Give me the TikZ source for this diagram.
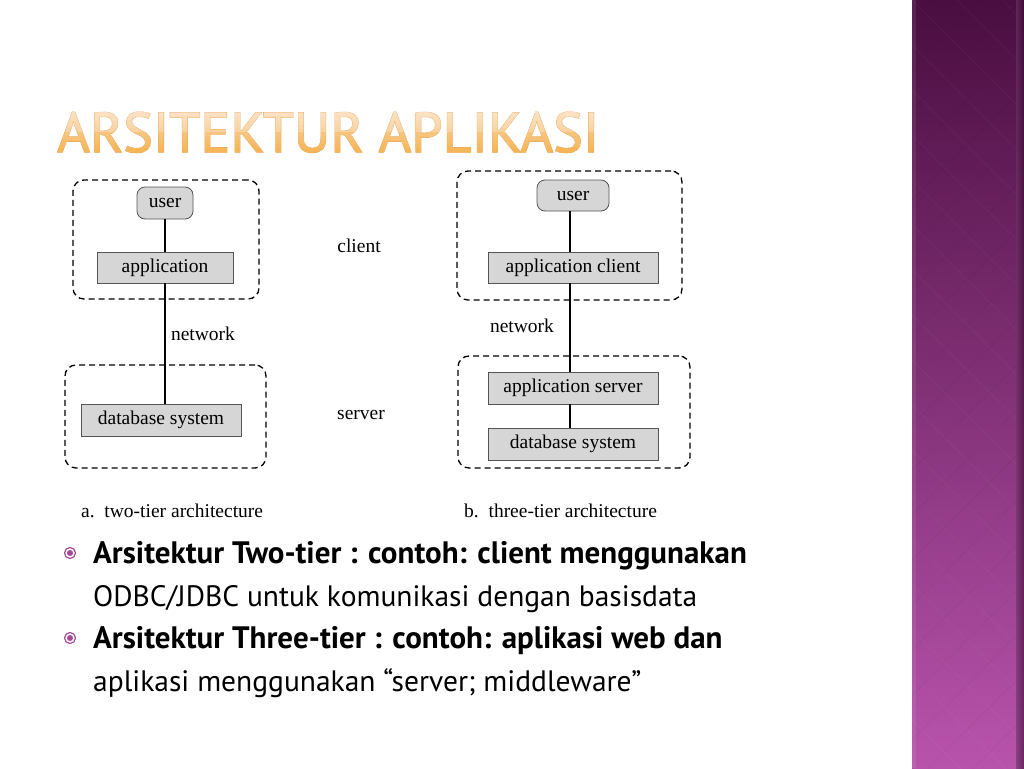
\documentclass[tikz,border=0pt]{standalone}
\usepackage{fontspec}
\setmainfont{Liberation Serif}
\newfontfamily\titlefont[FakeBold=0.8]{PT Sans}
\newfontfamily\titleedgefont[FakeBold=2.2]{PT Sans}
\newfontfamily\bulletfont{PT Sans}
\definecolor{boxgray}{HTML}{D6D6D6}
\definecolor{boxline}{HTML}{555555}
\definecolor{sidetop}{HTML}{4A0E40}
\definecolor{sidebot}{HTML}{B853AC}
\definecolor{titlelight}{HTML}{FBE3C8}
\definecolor{titleorange}{HTML}{F4B04A}
\definecolor{titleedge}{HTML}{E7A861}
\definecolor{bulletpurple}{HTML}{A34A98}
\newcommand{\titletext}{ARSITEKTUR APLIKASI}
\tikzset{
  grayrect/.style={draw=boxline, fill=boxgray, line width=0.8pt, inner sep=0pt, font=\fontsize{19.5}{22}\selectfont},
  grayround/.style={grayrect, rounded corners=8pt},
  dashbox/.style={draw=black, line width=1.3pt, dash pattern=on 6pt off 4pt, rounded corners=11pt},
  conn/.style={draw=black, line width=1.3pt},
  lbl/.style={font=\fontsize{19.5}{22}\selectfont, inner sep=0pt},
  bulb/.style={font=\bulletfont\bfseries\fontsize{31}{34}\selectfont, inner sep=0pt, anchor=base west},
  bulr/.style={font=\bulletfont\fontsize{29.5}{34}\selectfont, inner sep=0pt, anchor=base west},
  titlestyle/.style={anchor=base west, inner sep=0pt, font=\fontsize{56}{60}\selectfont},
}
\begin{document}
\begin{tikzpicture}[x=1pt,y=-1pt]
\useasboundingbox (0,0) rectangle (1024,768);
\fill[white] (0,0) rectangle (1024,768);
% sidebar
\shade[top color=sidetop, bottom color=sidebot] (912,0) rectangle (1024,768);
\begin{scope}
\clip (912,0) rectangle (1016,768);
\foreach \i in {0,...,30} {
  \draw[white, opacity=0.035, line width=1pt] (912,{\i*45-450}) -- (1112,{\i*45-250});
  \draw[black, opacity=0.03, line width=1pt] (1112,{\i*45-450}) -- (912,{\i*45-250});
}
\end{scope}
\shade[left color=sidebot!60!black, right color=sidetop!70!black, opacity=0.6] (1016,0) rectangle (1024,768);
\fill[white, opacity=0.08] (912,0) rectangle (916,768);
% title: outline then banded gradient
\node[titlestyle, text=titleedge] (titleedge) at (57,152) {\scalebox{1.0}[1]{\titleedgefont\titletext}};
\foreach \k in {0,...,11} {
  \pgfmathsetmacro{\mixv}{\k<6 ? 100-\k*6 : 40-(\k-6)*7}
  \begin{scope}
  \clip (40,{108+\k*4}) rectangle (640,{112+\k*4+ (\k==11 ? 20 : 0)});
  \node[titlestyle, text=titlelight!\mixv!titleorange] at (57,152) {\scalebox{1.0}[1]{\titlefont\titletext}};
  \end{scope}
}
% left diagram
\node[dashbox, minimum width=186pt, minimum height=119pt] (lclient) at (166,239.5) {};
\node[dashbox, minimum width=201pt, minimum height=103pt] (lserver) at (165.5,416.5) {};
\node[grayround, minimum width=56pt, minimum height=32pt] (luser) at (165,203) {user};
\node[grayrect, minimum width=136pt, minimum height=31pt] (lapp) at (165,267.5) {application};
\node[grayrect, minimum width=160pt, minimum height=32pt] (ldb) at (161,420) {database system};
\draw[conn] (luser.south) -- (luser.south |- lapp.north);
\draw[conn] (lapp.south -| luser.south) -- (luser.south |- ldb.north);
\node[lbl] (lnet) at (203,334) {network};
\node[lbl] (lcl) at (359,246) {client};
\node[lbl] (lsv) at (361,415) {server};
\node[lbl, anchor=west] (lcap) at (81,511) {a.\ \ two-tier architecture};
% right diagram
\node[dashbox, minimum width=225pt, minimum height=129pt] (rclient) at (569.5,235.5) {};
\node[dashbox, minimum width=232pt, minimum height=112pt] (rserver) at (574,412) {};
\node[grayround, minimum width=72pt, minimum height=31pt] (ruser) at (573,195.5) {user};
\node[grayrect, minimum width=170pt, minimum height=31pt] (rapp) at (573,267.5) {application client};
\node[grayrect, minimum width=170pt, minimum height=32pt] (rsrv) at (573,388) {application server};
\node[grayrect, minimum width=170pt, minimum height=32pt] (rdb) at (573,444) {database system};
\coordinate (rx) at (570,0);
\draw[conn] (rx |- ruser.south) -- (rx |- rapp.north);
\draw[conn] (rx |- rapp.south) -- (rx |- rsrv.north);
\draw[conn] (rx |- rsrv.south) -- (rx |- rdb.north);
\node[lbl] (rnet) at (522,326) {network};
\node[lbl, anchor=west] (rcap) at (464,511) {b.\ \ three-tier architecture};
% bullets
\foreach \yy/\nm in {553/b1, 638/b2} {
  \draw[bulletpurple, line width=1.2pt] (70,\yy) circle (5.5pt);
  \fill[bulletpurple] (70,\yy) circle (3pt);
}
\node[bulb] (t1) at (93,563) {Arsitektur Two-tier : contoh: client menggunakan};
\node[bulr] (t2) at (93,606) {ODBC/JDBC untuk komunikasi dengan basisdata};
\node[bulb] (t3) at (93,648) {Arsitektur Three-tier : contoh: aplikasi web dan};
\node[bulr] (t4) at (93,691) {aplikasi menggunakan “server; middleware”};
\end{tikzpicture}
\end{document}
